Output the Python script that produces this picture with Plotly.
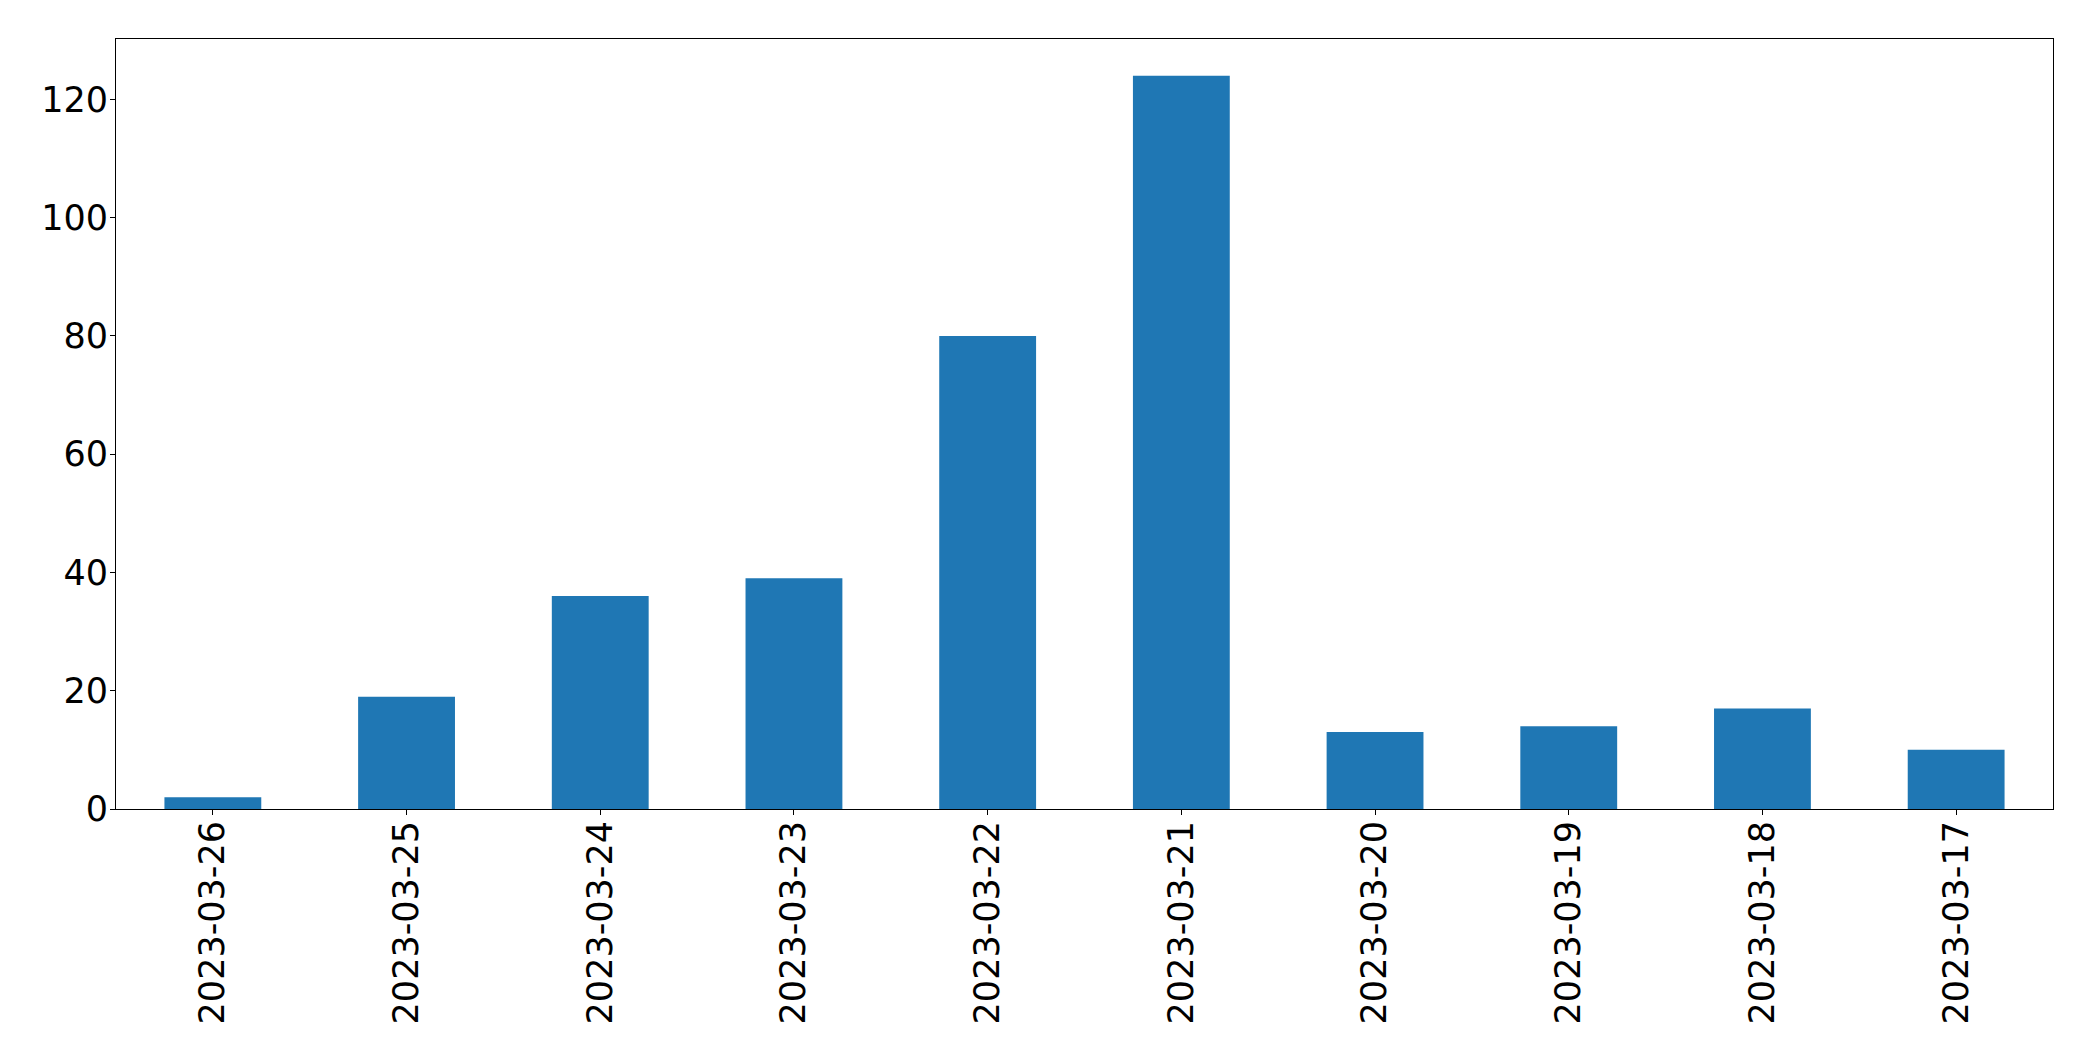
import plotly.graph_objects as go

dates = ["2023-03-26", "2023-03-25", "2023-03-24", "2023-03-23", "2023-03-22",
         "2023-03-21", "2023-03-20", "2023-03-19", "2023-03-18", "2023-03-17"]
counts = [2, 19, 36, 39, 80, 124, 13, 14, 17, 10]
y_ticks = [0, 20, 40, 60, 80, 100, 120]

fig = go.Figure(go.Bar(x=dates, y=counts, width=0.5, marker=dict(color="#1f77b4", line=dict(width=0))))

font = dict(family="DejaVu Sans", size=35, color="black")
fig.update_layout(
    width=2085, height=1053,
    margin=dict(l=108, r=40, t=31, b=252),
    paper_bgcolor="white", plot_bgcolor="white",
    showlegend=False,
    font=font,
)
fig.update_xaxes(
    type="category", range=[-0.5, 9.5], tickangle=-90,
    showline=True, linecolor="black", linewidth=1, mirror=True,
    ticks="outside", ticklen=5, tickcolor="black", tickwidth=1,
    showgrid=False, zeroline=False, tickfont=font, ticklabelstandoff=-8,
)
fig.update_yaxes(
    range=[0, 130.2], tickvals=y_ticks,
    showline=True, linecolor="black", linewidth=1, mirror=True,
    ticks="outside", ticklen=5, tickcolor="black", tickwidth=1,
    showgrid=False, zeroline=False, tickfont=font, ticklabelstandoff=-5,
)
fig.write_html("out.html")
